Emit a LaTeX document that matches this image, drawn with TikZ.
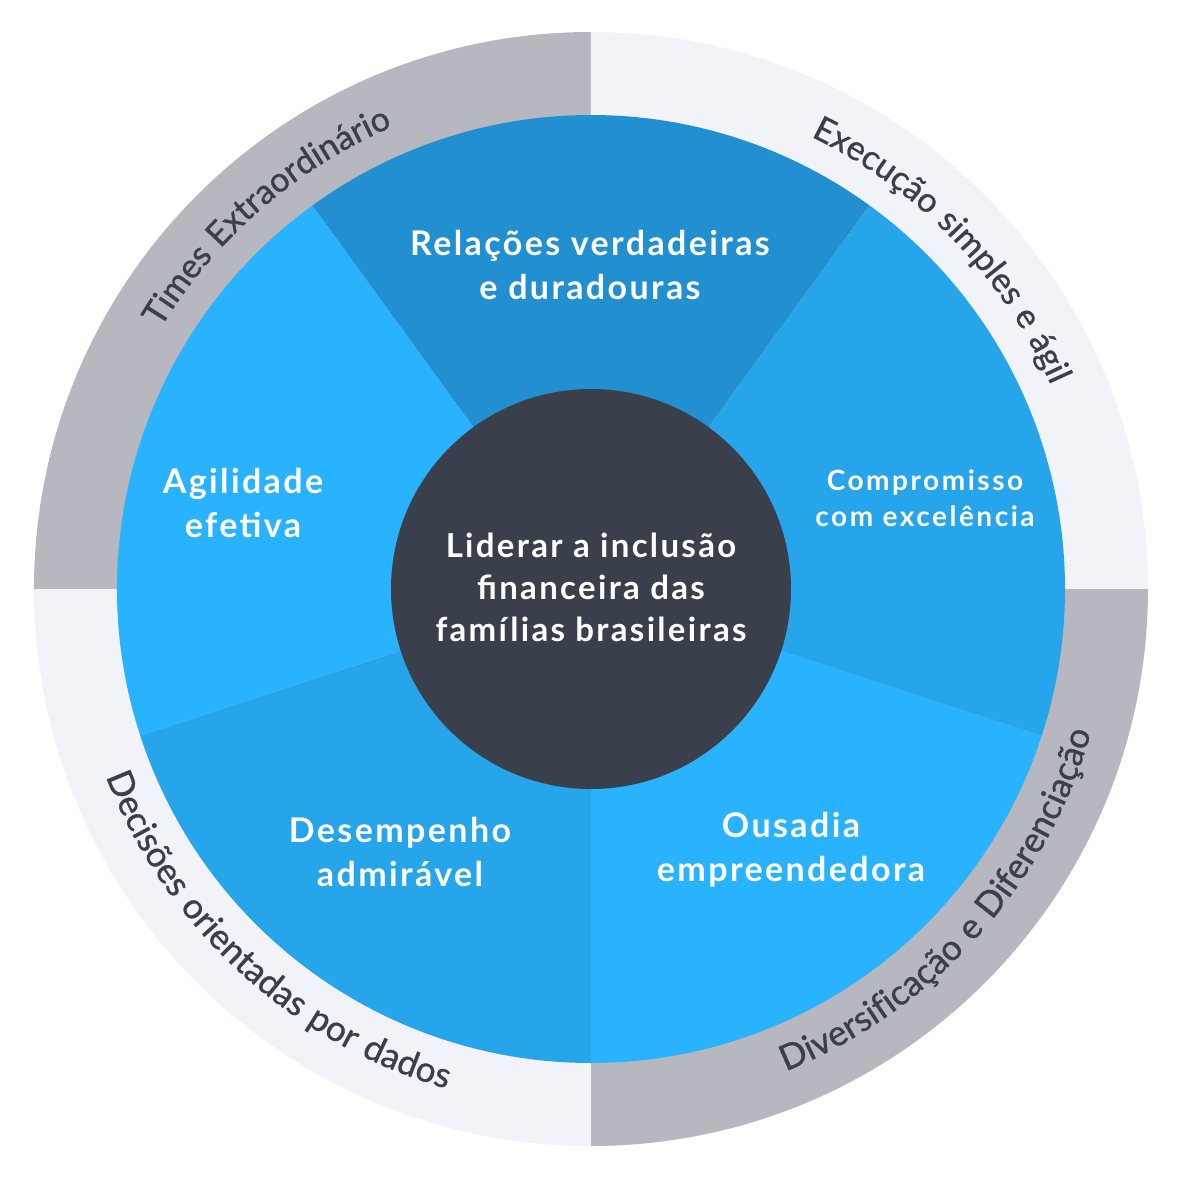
\documentclass[tikz,border=0pt]{standalone}
\usepackage{fontspec}
\setmainfont{Lato}
\newfontfamily\labfont{Lato Bold}[LetterSpace=7]
\newfontfamily\smallfont{Lato Bold}[LetterSpace=9]
\newfontfamily\ringfam{Lato}[LetterSpace=5,FakeBold=1]
\usetikzlibrary{decorations.text}
\definecolor{secdark}{HTML}{2290D0}
\definecolor{secmid}{HTML}{27A5EA}
\definecolor{secbright}{HTML}{29B2FD}
\definecolor{ringgray}{HTML}{B6B7BF}
\definecolor{ringlight}{HTML}{F1F3F8}
\definecolor{coredark}{HTML}{3A404B}
\definecolor{ringtxt}{HTML}{3A404B}
\newcommand{\ringfont}{\ringfam\fontsize{34}{34}\selectfont}
\newcommand{\ringfontb}{\ringfam\fontsize{35.2}{35}\selectfont}
\tikzset{
  seclabel/.style={text=white, align=center, inner sep=0pt},
  bigfont/.style={font=\labfont\fontsize{34}{44}\selectfont},
  ringtextpath/.style={decorate, decoration={text along path, text align=center, text={|\ringfont\color{ringtxt}|#1}}},
  ringtextpathb/.style={decorate, decoration={text along path, text align=center, text={|\ringfontb\color{ringtxt}|#1}}}
}
\begin{document}
\begin{tikzpicture}[x=1pt,y=1pt]
\useasboundingbox (-591,-590) rectangle (587,589);
% outer ring quadrants
\fill[ringgray]  (0,0) -- (90:557) arc[start angle=90, end angle=180, radius=557] -- cycle;
\fill[ringlight] (0,0) -- (0:557) arc[start angle=0, end angle=90, radius=557] -- cycle;
\fill[ringgray]  (0,0) -- (270:557) arc[start angle=270, end angle=360, radius=557] -- cycle;
\fill[ringlight] (0,0) -- (180:557) arc[start angle=180, end angle=270, radius=557] -- cycle;
% pie sectors
\fill[secdark]   (0,0) -- (54:474) arc[start angle=54, end angle=126, radius=474] -- cycle;
\fill[secbright] (0,0) -- (126:474) arc[start angle=126, end angle=198, radius=474] -- cycle;
\fill[secmid]    (0,0) -- (198:474) arc[start angle=198, end angle=270, radius=474] -- cycle;
\fill[secbright] (0,0) -- (270:474) arc[start angle=270, end angle=342, radius=474] -- cycle;
\fill[secmid]    (0,0) -- (342:474) arc[start angle=342, end angle=414, radius=474] -- cycle;
% core
\fill[coredark] (0,0) circle[radius=200];
% sector labels
\node[seclabel, bigfont] (relacoes) at (-1,324) {Relações verdadeiras\\e duradouras};
\node[seclabel, font=\smallfont\fontsize{28}{36}\selectfont] (compromisso) at (334,91) {Compromisso\\com excelência};
\node[seclabel, bigfont] (ousadia) at (200,-261) {Ousadia\\empreendedora};
\node[seclabel, bigfont] (desempenho) at (-191,-263) {Desempenho\\admirável};
\node[seclabel, bigfont] (agilidade) at (-348,86) {Agilidade\\efetiva};
\node[seclabel, font=\labfont\fontsize{33}{42}\selectfont] (core) at (0,2) {Liderar a inclusão\\financeira das\\famílias brasileiras};
% ring labels
\path[ringtextpath={Times Extraordinário}] (176:503) arc[start angle=176, end angle=86, radius=503];
\path[ringtextpath={Execução simples e ágil}] (89:503) arc[start angle=89, end angle=-1, radius=503];
\path[ringtextpathb={Diversificação e Diferenciação}] (-87:520) arc[start angle=-87, end angle=3, radius=520];
\path[ringtextpathb={Decisões orientadas por dados}] (182.5:520) arc[start angle=182.5, end angle=272.5, radius=520];
\end{tikzpicture}
\end{document}
